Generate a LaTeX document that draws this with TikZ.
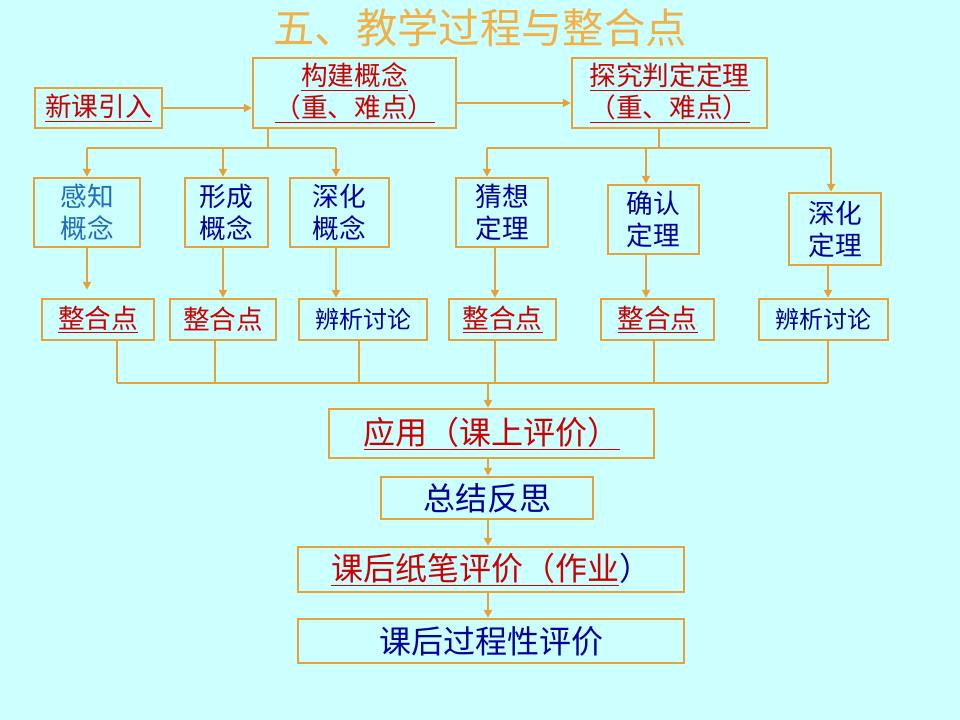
\documentclass[tikz,border=0pt]{standalone}
\usepackage{fontspec}
\newfontfamily\cjk{Noto Sans CJK SC}
\usetikzlibrary{arrows.meta}
\newlength\pxu \setlength\pxu{0.75pt}
\definecolor{bgc}{RGB}{204,255,255}
\definecolor{boxc}{RGB}{230,162,52}
\definecolor{titc}{RGB}{240,178,70}
\definecolor{rc}{RGB}{204,0,0}
\definecolor{bc}{RGB}{0,0,153}
\definecolor{lbc}{RGB}{30,110,190}
\tikzset{
  bx/.style={draw=boxc, line width=1.8pt, inner sep=0pt, align=center,
    font=\cjk\fontsize{20}{24}\selectfont},
  smallbx/.style={bx, font=\cjk\fontsize{18}{22}\selectfont},
  bigbx/.style={bx, font=\cjk\fontsize{24}{28}\selectfont},
  ln/.style={draw=boxc, line width=1.65pt},
  ar/.style={ln, -{Triangle[length=6pt,width=6pt]}},
}
\begin{document}
\begin{tikzpicture}[x=0.75pt,y=-0.75pt]
\fill[bgc] (0,0) rectangle (960,720);
\useasboundingbox (0,0) rectangle (960,720);

\node[font=\cjk\fontsize{31}{36}\selectfont, text=titc] (title) at (480,28) {五、教学过程与整合点};

% top row
\node[bx, minimum width=95.25pt, minimum height=30pt, text=rc] (xk) at (98.5,108) {\underline{新课引入}};
\node[bx, minimum width=152.25pt, minimum height=52.5pt, text=rc] (gj) at (354.5,93) {\underline{构建概念}\\\underline{（重、难点）}};
\node[bx, minimum width=146.25pt, minimum height=52.5pt, text=rc] (tj) at (669.5,93) {\underline{探究判定定理}\\\underline{（重、难点）}};

% second row
\node[bx, minimum width=79.5pt, minimum height=51.75pt, text=lbc] (gz) at (87,212.5) {感知\\概念};
\node[bx, minimum width=62.25pt, minimum height=51.75pt, text=bc] (xc) at (226.5,212.5) {形成\\概念};
\node[bx, minimum width=74.25pt, minimum height=51.75pt, text=bc] (sh) at (339.5,212.5) {深化\\概念};
\node[bx, minimum width=69pt, minimum height=51.75pt, text=bc] (cx) at (502,212.5) {猜想\\定理};
\node[bx, minimum width=68.25pt, minimum height=51.75pt, text=bc] (qr) at (653.5,219.5) {确认\\定理};
\node[bx, minimum width=69pt, minimum height=54pt, text=bc] (sd) at (835,229) {深化\\定理};

% third row
\node[bx, minimum width=84pt, minimum height=30.75pt, text=rc] (z1) at (98,319.5) {\underline{整合点}};
\node[bx, minimum width=79.5pt, minimum height=30.75pt, text=rc] (z2) at (223,319.5) {整合点};
\node[smallbx, minimum width=96pt, minimum height=30.75pt, text=bc] (p1) at (363,319.5) {辨析讨论};
\node[bx, minimum width=80.25pt, minimum height=30.75pt, text=rc] (z3) at (502.5,319.5) {\underline{整合点}};
\node[bx, minimum width=84.75pt, minimum height=30.75pt, text=rc] (z4) at (657.5,319.5) {\underline{整合点}};
\node[smallbx, minimum width=96.75pt, minimum height=30.75pt, text=bc] (p2) at (823.5,319.5) {辨析讨论};

% bottom chain
\node[bigbx, minimum width=243.75pt, minimum height=36.75pt, text=rc] (yy) at (491.5,433.5) {\underline{应用（课上评价）}};
\node[bigbx, minimum width=159pt, minimum height=31.5pt, text=bc] (zj) at (487,498) {总结反思};
\node[bigbx, minimum width=289.5pt, minimum height=33.75pt, text=rc] (k1) at (491,569.5) {\underline{课后纸笔评价（作业}\textcolor{bc}{）}};
\node[bigbx, minimum width=289.5pt, minimum height=33pt, text=bc] (k2) at (491,641) {课后过程性评价};

% top connectors
\coordinate (ay) at (0,103);
\draw[ar] (xk.east) -- (xk.east -| gj.west);
\draw[ar] (gj.east |- ay) -- (tj.west |- ay);

% left branch
\coordinate (b1) at (268,148);
\coordinate (c1) at (87,148);
\coordinate (c2) at (223,148);
\coordinate (c3) at (336,148);
\draw[ln] (gj.south -| b1) -- (b1);
\draw[ln] (c1) -- (c3);
\draw[ar] (c1) -- (c1 |- gz.north);
\draw[ar] (c2) -- (c2 |- xc.north);
\draw[ar] (c3) -- (c3 |- sh.north);

% right branch
\coordinate (b2) at (659,148);
\coordinate (c4) at (487,148);
\coordinate (c5) at (646,148);
\coordinate (c6) at (831,148);
\draw[ln] (tj.south -| b2) -- (b2);
\draw[ln] (c4) -- (c6);
\draw[ar] (c4) -- (c4 |- cx.north);
\draw[ar] (c5) -- (c5 |- qr.north);
\draw[ar] (c6) -- (c6 |- sd.north);

% row2 -> row3
\coordinate (d4) at (495,0);
\coordinate (d6) at (828,0);
\draw[ar, shorten >=6pt] (c1 |- gz.south) -- (c1 |- z1.north);
\draw[ar] (c2 |- xc.south) -- (c2 |- z2.north);
\draw[ar] (c3 |- sh.south) -- (c3 |- p1.north);
\draw[ar] (d4 |- cx.south) -- (d4 |- z3.north);
\draw[ar] (c5 |- qr.south) -- (c5 |- z4.north);
\draw[ar] (d6 |- sd.south) -- (d6 |- p2.north);

% collector
\coordinate (m1) at (117,383);
\coordinate (m2) at (215,383);
\coordinate (m3) at (359,383);
\coordinate (m4) at (495,383);
\coordinate (m5) at (654,383);
\coordinate (m6) at (828,383);
\coordinate (m0) at (488,383);
\draw[ln] (z1.south -| m1) -- (m1);
\draw[ln] (z2.south -| m2) -- (m2);
\draw[ln] (p1.south -| m3) -- (m3);
\draw[ln] (z3.south -| m4) -- (m4);
\draw[ln] (z4.south -| m5) -- (m5);
\draw[ln] (p2.south -| m6) -- (m6);
\draw[ln] (m1) -- (m6);
\draw[ar] (m0) -- (m0 |- yy.north);
\draw[ar] (m0 |- yy.south) -- (m0 |- zj.north);
\draw[ar] (m0 |- zj.south) -- (m0 |- k1.north);
\draw[ar] (m0 |- k1.south) -- (m0 |- k2.north);
\end{tikzpicture}
\end{document}
